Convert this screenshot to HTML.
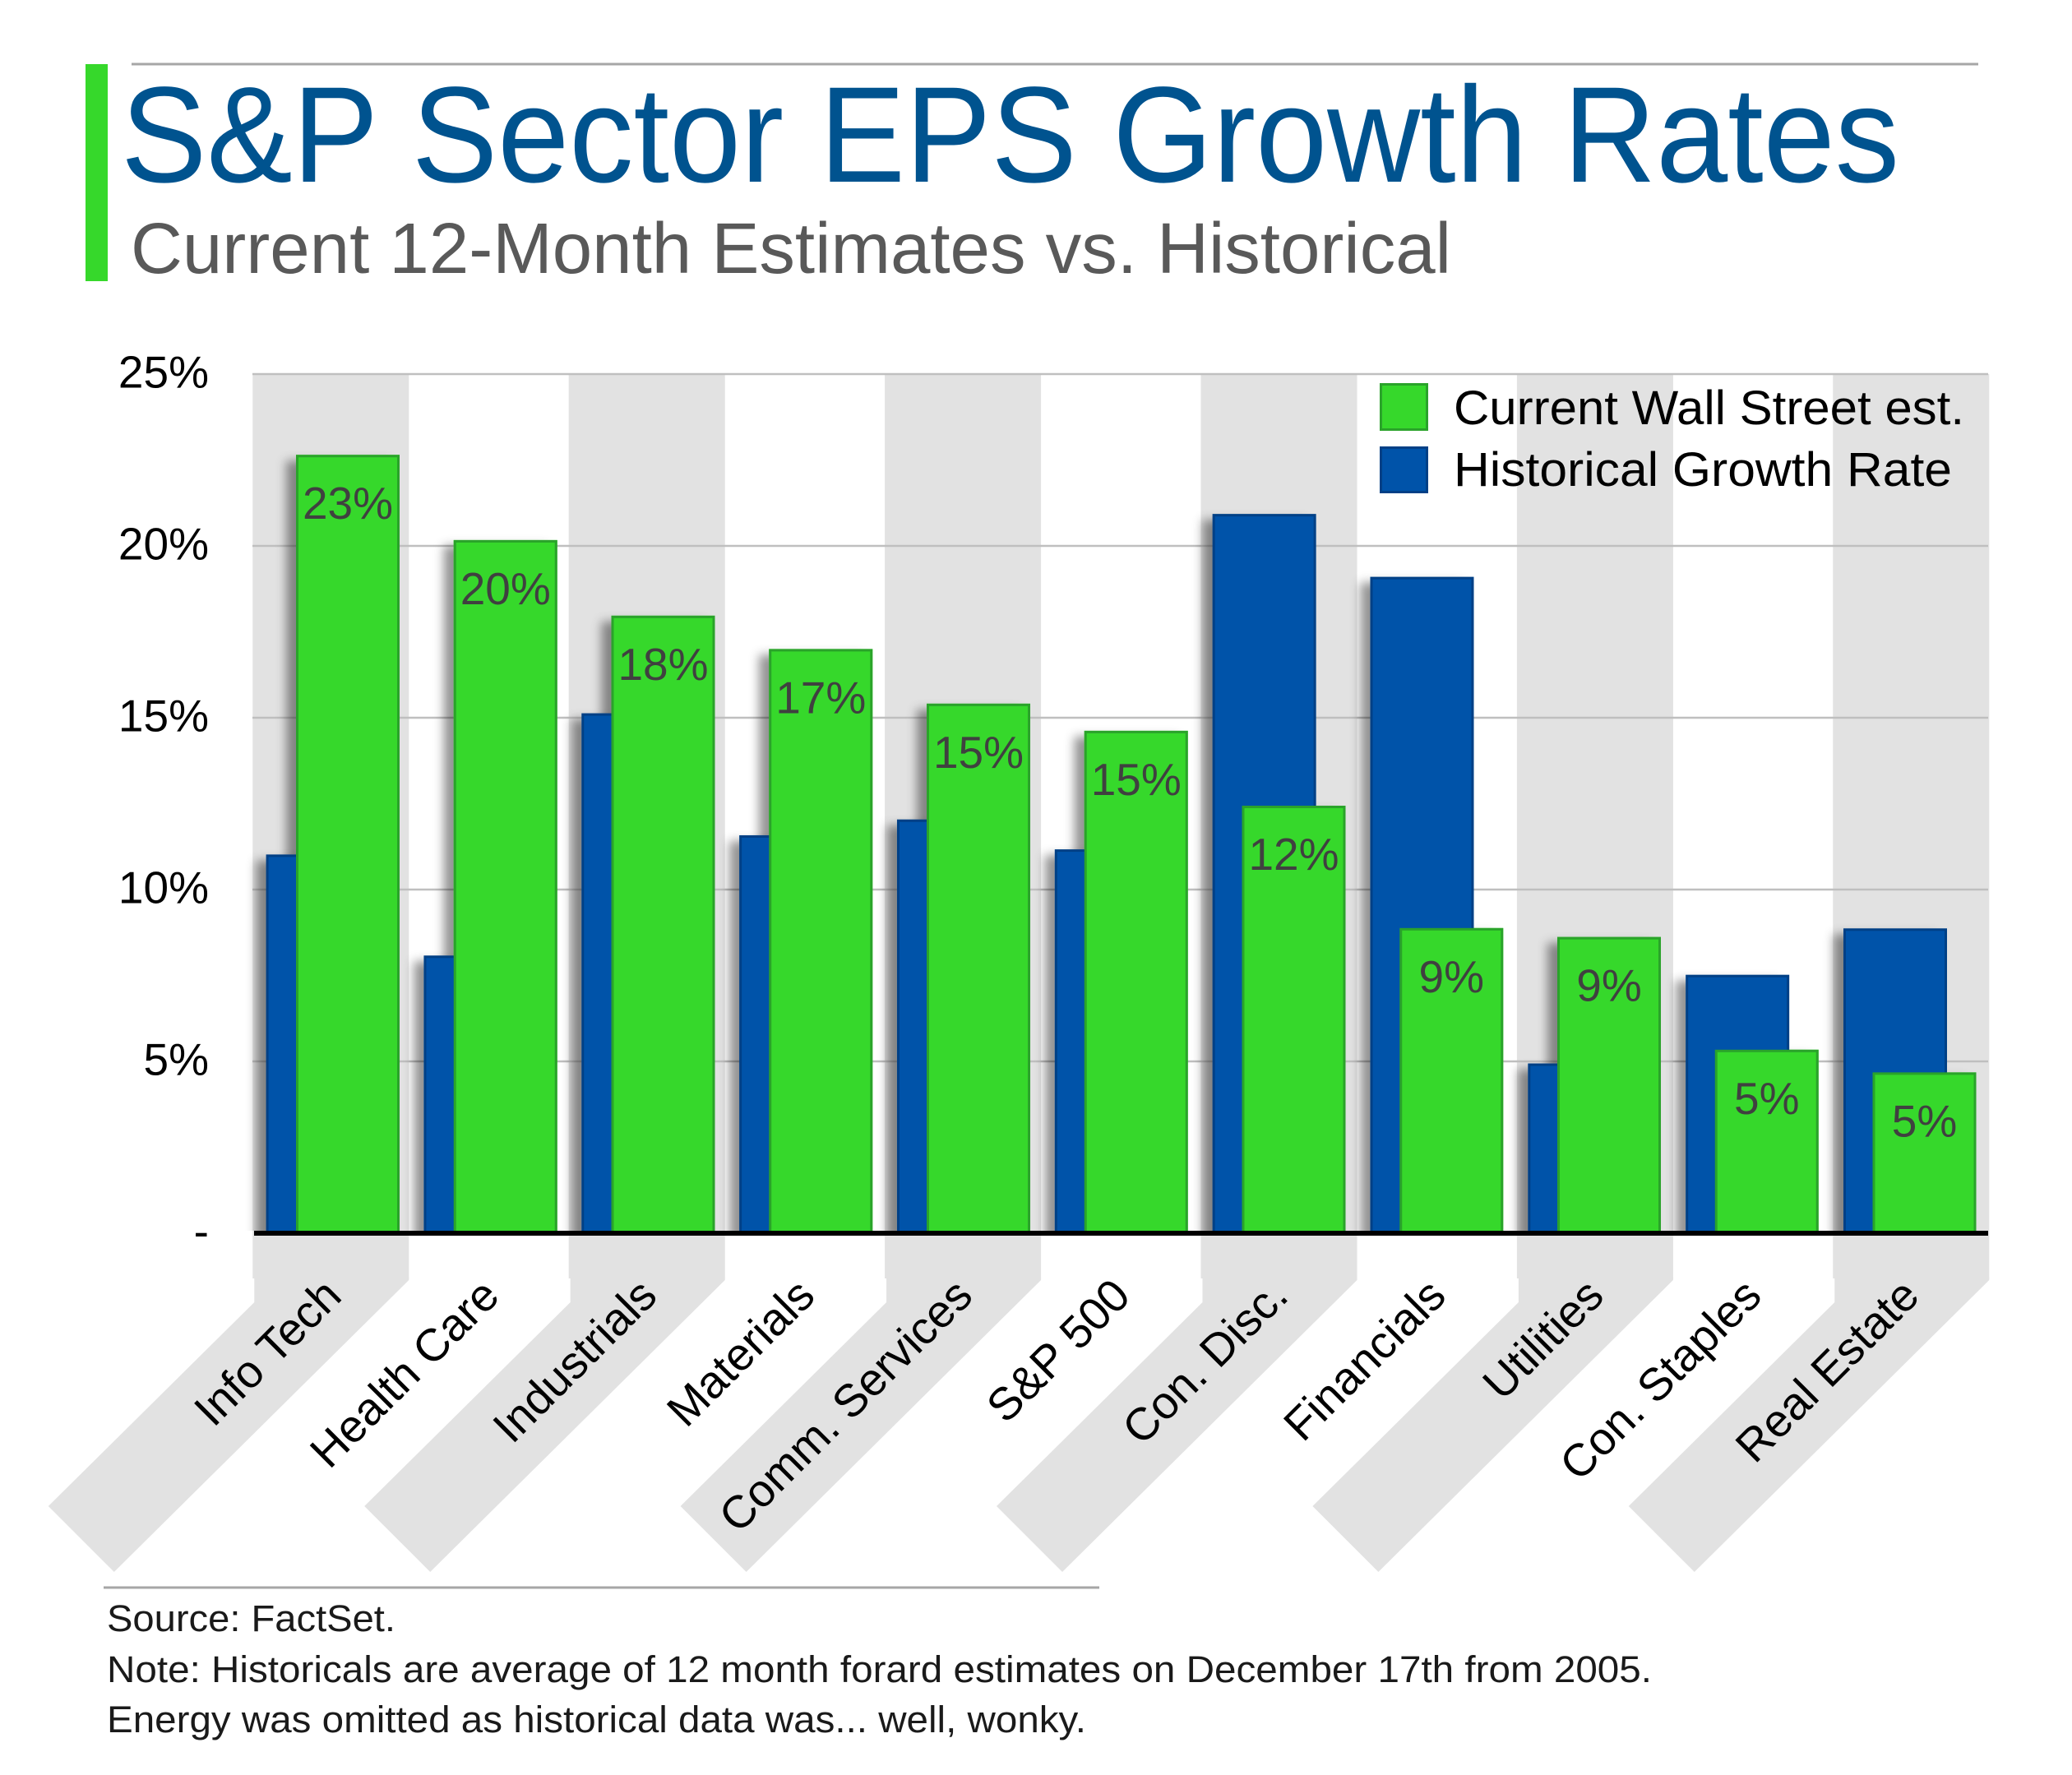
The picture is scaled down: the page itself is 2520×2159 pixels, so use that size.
<!DOCTYPE html>
<html lang="en">
<head>
<meta charset="utf-8">
<title>S&amp;P Sector EPS Growth Rates</title>
<style>
  html, body { margin: 0; padding: 0; background: #ffffff; }
  svg { display: block; font-family: "Liberation Sans", sans-serif; }
</style>
</head>
<body>
<svg id="chart" xmlns="http://www.w3.org/2000/svg" width="2520" height="2159" viewBox="0 0 2520 2159">
  <defs>
    <filter id="bar-shadow" x="-40%" y="-10%" width="170%" height="120%">
      <feDropShadow dx="-12" dy="7" stdDeviation="6" flood-color="#000000" flood-opacity="0.42"/>
    </filter>
    <clipPath id="plot-clip"><rect x="250" y="400" width="2200" height="1097"/></clipPath>
  </defs>
  <rect x="0" y="0" width="2520" height="2159" fill="#ffffff"/>
  <rect x="104" y="78" width="27" height="264" fill="#36D82B"/>
  <rect x="160" y="76.5" width="2246" height="3" fill="#A6A6A6"/>
  <text x="147" y="221" font-size="166" fill="#00538F" textLength="2163" lengthAdjust="spacingAndGlyphs">S&amp;P Sector EPS Growth Rates</text>
  <text x="159" y="332" font-size="87" fill="#595959" textLength="1606" lengthAdjust="spacingAndGlyphs">Current 12-Month Estimates vs. Historical</text>

  <g id="bands"></g>
  <g id="grid"></g>
  <g id="y-ticks"></g>
  <g id="bars" clip-path="url(#plot-clip)"></g>
  <rect x="309" y="1497" width="2109" height="6" fill="#000000"/>
  <g id="value-labels"></g>
  <g id="x-labels"></g>

  <g>
    <g>
      <rect x="1679.5" y="467.5" width="56" height="55" fill="#36D82B" stroke="#2AA32A" stroke-width="3"/>
      <text x="1768" y="516" font-size="58" fill="#000000" textLength="621" lengthAdjust="spacingAndGlyphs">Current Wall Street est.</text>
    </g>
    <g>
      <rect x="1679.5" y="544.5" width="56" height="54" fill="#0053A9" stroke="#024086" stroke-width="3"/>
      <text x="1768" y="591" font-size="58" fill="#000000" textLength="606" lengthAdjust="spacingAndGlyphs">Historical Growth Rate</text>
    </g>
  </g>

  <rect x="126" y="1929.5" width="1211" height="3" fill="#A6A6A6"/>
  <g font-size="45" fill="#1a1a1a">
    <text x="130" y="1984" textLength="351" lengthAdjust="spacingAndGlyphs">Source: FactSet.</text>
    <text x="130" y="2046" textLength="1879" lengthAdjust="spacingAndGlyphs">Note: Historicals are average of 12 month forard estimates on December 17th from 2005.</text>
    <text x="130" y="2107" textLength="1191" lengthAdjust="spacingAndGlyphs">Energy was omitted as historical data was... well, wonky.</text>
  </g>
</svg>
<script>
const categories = ["Info Tech", "Health Care", "Industrials", "Materials", "Comm. Services", "S&P 500", "Con. Disc.", "Financials", "Utilities", "Con. Staples", "Real Estate"];
const currentEstimates = [22.65, 20.17, 17.97, 17.0, 15.41, 14.62, 12.44, 8.88, 8.62, 5.34, 4.68];
const historicalRates = [11.02, 8.08, 15.13, 11.58, 12.04, 11.17, 20.93, 19.1, 4.94, 7.52, 8.87];
const valueLabels = ["23%", "20%", "18%", "17%", "15%", "15%", "12%", "9%", "9%", "5%", "5%"];
const tickValues = [0, 5, 10, 15, 20, 25];
const tickLabels = ["-", "5%", "10%", "15%", "20%", "25%"];

const SVG_NS = "http://www.w3.org/2000/svg";
const yScale = function (v) { return 1500 - v * 41.8; };
const bandX = function (i) { return 307.3 + 192.2 * i; };
const blueX = function (i) { return 323.6 + 191.84 * i; };
const greenX = function (i) { return 360 + 191.75 * i; };
const labelEndX = function (i) { return 418 + 191.9 * i; };
const BAR_WIDTH = 126;
const BAND_WIDTH = 190;

const bandsGroup = document.getElementById("bands");
const gridGroup = document.getElementById("grid");
const tickGroup = document.getElementById("y-ticks");
const barsGroup = document.getElementById("bars");
const valueGroup = document.getElementById("value-labels");
const xLabelGroup = document.getElementById("x-labels");

categories.forEach(function (name, i) {
  if (i % 2 !== 0) return;
  const x0 = bandX(i);
  const rect = document.createElementNS(SVG_NS, "rect");
  
  
  rect.setAttribute("x", x0);
  rect.setAttribute("y", 455);
  rect.setAttribute("width", BAND_WIDTH);
  rect.setAttribute("height", 1100);
  rect.setAttribute("fill", "#E2E2E2");
  bandsGroup.appendChild(rect);

  const tail = document.createElementNS(SVG_NS, "polygon");
  
  
  tail.setAttribute("points",
    (x0 + 2) + ",1554 " + (x0 + BAND_WIDTH) + ",1554 " + (x0 + BAND_WIDTH) + ",1557 " +
    (x0 - 168.5) + ",1912 " + (x0 - 248.5) + ",1832 " + (x0 + 2) + ",1584");
  tail.setAttribute("fill", "#E2E2E2");
  bandsGroup.appendChild(tail);
});

tickValues.forEach(function (v, i) {
  if (v !== 0) {
    const line = document.createElementNS(SVG_NS, "line");
    
    
    line.setAttribute("x1", 307);
    line.setAttribute("x2", 2418);
    line.setAttribute("y1", yScale(v));
    line.setAttribute("y2", yScale(v));
    line.setAttribute("stroke", "#BFBFBF");
    line.setAttribute("stroke-width", 2.5);
    gridGroup.appendChild(line);
  }
  const label = document.createElementNS(SVG_NS, "text");
  
  
  label.setAttribute("x", 254);
  label.setAttribute("y", yScale(v) + 16.5);
  label.setAttribute("text-anchor", "end");
  label.setAttribute("font-size", 55);
  label.setAttribute("fill", "#000000");
  label.textContent = tickLabels[i];
  tickGroup.appendChild(label);
});

categories.forEach(function (name, i) {
  const greenShadow = document.createElementNS(SVG_NS, "rect");
  
  
  greenShadow.setAttribute("x", greenX(i));
  greenShadow.setAttribute("y", yScale(currentEstimates[i]));
  greenShadow.setAttribute("width", BAR_WIDTH);
  greenShadow.setAttribute("height", Math.max(0, 1510 - yScale(currentEstimates[i])));
  greenShadow.setAttribute("fill", "#36D82B");
  greenShadow.setAttribute("filter", "url(#bar-shadow)");
  barsGroup.appendChild(greenShadow);
});

categories.forEach(function (name, i) {
  const blueBar = document.createElementNS(SVG_NS, "rect");
  
  
  blueBar.setAttribute("x", blueX(i) + 1.5);
  blueBar.setAttribute("y", yScale(historicalRates[i]) + 1.5);
  blueBar.setAttribute("width", BAR_WIDTH - 3);
  blueBar.setAttribute("height", Math.max(0, 1510 - yScale(historicalRates[i])));
  blueBar.setAttribute("fill", "#0053A9");
  blueBar.setAttribute("stroke", "#024086");
  blueBar.setAttribute("stroke-width", 3);
  blueBar.setAttribute("filter", "url(#bar-shadow)");
  barsGroup.appendChild(blueBar);
});

categories.forEach(function (name, i) {
  const greenBar = document.createElementNS(SVG_NS, "rect");
  
  
  greenBar.setAttribute("x", greenX(i) + 1.5);
  greenBar.setAttribute("y", yScale(currentEstimates[i]) + 1.5);
  greenBar.setAttribute("width", BAR_WIDTH - 3);
  greenBar.setAttribute("height", Math.max(0, 1510 - yScale(currentEstimates[i])));
  greenBar.setAttribute("fill", "#36D82B");
  greenBar.setAttribute("stroke", "#2AA32A");
  greenBar.setAttribute("stroke-width", 3);
  barsGroup.appendChild(greenBar);

  const valueText = document.createElementNS(SVG_NS, "text");
  
  
  valueText.setAttribute("x", greenX(i) + BAR_WIDTH / 2);
  valueText.setAttribute("y", yScale(currentEstimates[i]) + 78);
  valueText.setAttribute("text-anchor", "middle");
  valueText.setAttribute("font-size", 55);
  valueText.setAttribute("fill", "#404040");
  valueText.textContent = valueLabels[i];
  valueGroup.appendChild(valueText);

  const catText = document.createElementNS(SVG_NS, "text");
  
  
  catText.setAttribute("text-anchor", "end");
  catText.setAttribute("font-size", 55.5);
  catText.setAttribute("fill", "#000000");
  catText.setAttribute("transform", "translate(" + labelEndX(i) + ",1579) rotate(-45)");
  catText.textContent = name;
  xLabelGroup.appendChild(catText);
});
</script>
</body>
</html>
